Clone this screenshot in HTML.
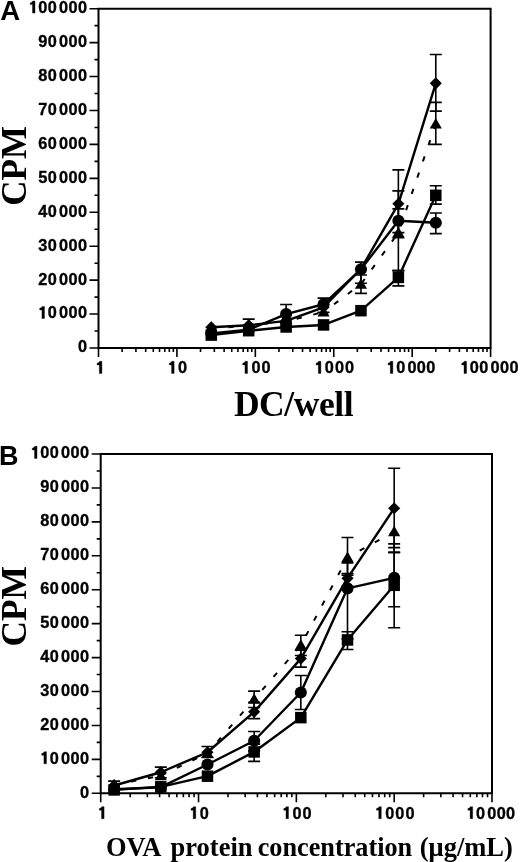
<!DOCTYPE html>
<html><head><meta charset="utf-8"><style>
html,body{margin:0;padding:0;background:#fff;width:520px;height:862px;overflow:hidden}
svg{display:block;filter:grayscale(1)}
.tl{font-family:"Liberation Sans",sans-serif;font-weight:bold;font-size:17.0px;fill:#000;stroke:#000;stroke-width:0.35px}
.one{stroke:#000;stroke-width:0.35px;vector-effect:non-scaling-stroke}
.ttl{font-family:"Liberation Serif",serif;font-weight:bold;fill:#000}
.pl{font-family:"Liberation Sans",sans-serif;font-weight:bold;fill:#000}
</style></head><body>
<svg width="520" height="862" viewBox="0 0 520 862">
<text x="0.3" y="20.4" class="pl" font-size="27.5">A</text>
<text x="-1" y="464.6" class="pl" font-size="27">B</text>
<text transform="translate(26 205.7) rotate(-90)" class="ttl" font-size="35">CPM</text>
<text transform="translate(26.3 646.6) rotate(-90)" class="ttl" font-size="35.4">CPM</text>
<text x="293.5" y="416" class="ttl" font-size="35.5" letter-spacing="-0.45" text-anchor="middle">DC/well</text>
<g class="ttl" font-size="26.5"><text x="106" y="855.5">OVA</text><text x="170.6" y="855.5">protein</text><text x="257.7" y="855.5" textLength="154.5" lengthAdjust="spacingAndGlyphs">concentration</text><text x="419.8" y="855.5">(μg/mL)</text></g>
<path d="M98.5 348.0H490.6V8.7H98.5Z" fill="none" stroke="#000" stroke-width="2.0" stroke-linejoin="miter"/>
<path d="M89.5 348.00H98.5M94.5 331.04H98.5M89.5 314.07H98.5M94.5 297.11H98.5M89.5 280.14H98.5M94.5 263.18H98.5M89.5 246.21H98.5M94.5 229.25H98.5M89.5 212.28H98.5M94.5 195.31H98.5M89.5 178.35H98.5M94.5 161.38H98.5M89.5 144.42H98.5M94.5 127.45H98.5M89.5 110.49H98.5M94.5 93.52H98.5M89.5 76.56H98.5M94.5 59.59H98.5M89.5 42.63H98.5M94.5 25.67H98.5M89.5 8.70H98.5" stroke="#000" stroke-width="1.6"/>
<path d="M98.50 348.0V357.0M122.11 348.0V352.0M135.92 348.0V352.0M145.71 348.0V352.0M153.31 348.0V352.0M159.52 348.0V352.0M164.77 348.0V352.0M169.32 348.0V352.0M173.33 348.0V352.0M176.92 348.0V357.0M200.53 348.0V352.0M214.34 348.0V352.0M224.13 348.0V352.0M231.73 348.0V352.0M237.94 348.0V352.0M243.19 348.0V352.0M247.74 348.0V352.0M251.75 348.0V352.0M255.34 348.0V357.0M278.95 348.0V352.0M292.76 348.0V352.0M302.55 348.0V352.0M310.15 348.0V352.0M316.36 348.0V352.0M321.61 348.0V352.0M326.16 348.0V352.0M330.17 348.0V352.0M333.76 348.0V357.0M357.37 348.0V352.0M371.18 348.0V352.0M380.97 348.0V352.0M388.57 348.0V352.0M394.78 348.0V352.0M400.03 348.0V352.0M404.58 348.0V352.0M408.59 348.0V352.0M412.18 348.0V357.0M435.79 348.0V352.0M449.60 348.0V352.0M459.39 348.0V352.0M466.99 348.0V352.0M473.20 348.0V352.0M478.45 348.0V352.0M483.00 348.0V352.0M487.01 348.0V352.0M490.60 348.0V357.0" stroke="#000" stroke-width="1.6"/>
<text transform="translate(77.90 352.40) scale(0.96 1)" class="tl">0</text>
<path transform="translate(38.30 318.47) scale(16.320 -17.0)" class="one" d="M0.378 0L0.222 0L0.222 0.500L0.085 0.500L0.085 0.600Q0.205 0.610 0.240 0.710L0.378 0.710Z"/><text transform="translate(47.75 318.47) scale(0.96 1)" class="tl">0</text><text transform="translate(59.00 318.47) scale(0.96 1)" class="tl">0</text><text transform="translate(68.45 318.47) scale(0.96 1)" class="tl">0</text><text transform="translate(77.90 318.47) scale(0.96 1)" class="tl">0</text>
<text transform="translate(38.30 284.54) scale(0.96 1)" class="tl">2</text><text transform="translate(47.75 284.54) scale(0.96 1)" class="tl">0</text><text transform="translate(59.00 284.54) scale(0.96 1)" class="tl">0</text><text transform="translate(68.45 284.54) scale(0.96 1)" class="tl">0</text><text transform="translate(77.90 284.54) scale(0.96 1)" class="tl">0</text>
<text transform="translate(38.30 250.61) scale(0.96 1)" class="tl">3</text><text transform="translate(47.75 250.61) scale(0.96 1)" class="tl">0</text><text transform="translate(59.00 250.61) scale(0.96 1)" class="tl">0</text><text transform="translate(68.45 250.61) scale(0.96 1)" class="tl">0</text><text transform="translate(77.90 250.61) scale(0.96 1)" class="tl">0</text>
<text transform="translate(38.30 216.68) scale(0.96 1)" class="tl">4</text><text transform="translate(47.75 216.68) scale(0.96 1)" class="tl">0</text><text transform="translate(59.00 216.68) scale(0.96 1)" class="tl">0</text><text transform="translate(68.45 216.68) scale(0.96 1)" class="tl">0</text><text transform="translate(77.90 216.68) scale(0.96 1)" class="tl">0</text>
<text transform="translate(38.30 182.75) scale(0.96 1)" class="tl">5</text><text transform="translate(47.75 182.75) scale(0.96 1)" class="tl">0</text><text transform="translate(59.00 182.75) scale(0.96 1)" class="tl">0</text><text transform="translate(68.45 182.75) scale(0.96 1)" class="tl">0</text><text transform="translate(77.90 182.75) scale(0.96 1)" class="tl">0</text>
<text transform="translate(38.30 148.82) scale(0.96 1)" class="tl">6</text><text transform="translate(47.75 148.82) scale(0.96 1)" class="tl">0</text><text transform="translate(59.00 148.82) scale(0.96 1)" class="tl">0</text><text transform="translate(68.45 148.82) scale(0.96 1)" class="tl">0</text><text transform="translate(77.90 148.82) scale(0.96 1)" class="tl">0</text>
<text transform="translate(38.30 114.89) scale(0.96 1)" class="tl">7</text><text transform="translate(47.75 114.89) scale(0.96 1)" class="tl">0</text><text transform="translate(59.00 114.89) scale(0.96 1)" class="tl">0</text><text transform="translate(68.45 114.89) scale(0.96 1)" class="tl">0</text><text transform="translate(77.90 114.89) scale(0.96 1)" class="tl">0</text>
<text transform="translate(38.30 80.96) scale(0.96 1)" class="tl">8</text><text transform="translate(47.75 80.96) scale(0.96 1)" class="tl">0</text><text transform="translate(59.00 80.96) scale(0.96 1)" class="tl">0</text><text transform="translate(68.45 80.96) scale(0.96 1)" class="tl">0</text><text transform="translate(77.90 80.96) scale(0.96 1)" class="tl">0</text>
<text transform="translate(38.30 47.03) scale(0.96 1)" class="tl">9</text><text transform="translate(47.75 47.03) scale(0.96 1)" class="tl">0</text><text transform="translate(59.00 47.03) scale(0.96 1)" class="tl">0</text><text transform="translate(68.45 47.03) scale(0.96 1)" class="tl">0</text><text transform="translate(77.90 47.03) scale(0.96 1)" class="tl">0</text>
<path transform="translate(28.85 13.10) scale(16.320 -17.0)" class="one" d="M0.378 0L0.222 0L0.222 0.500L0.085 0.500L0.085 0.600Q0.205 0.610 0.240 0.710L0.378 0.710Z"/><text transform="translate(38.30 13.10) scale(0.96 1)" class="tl">0</text><text transform="translate(47.75 13.10) scale(0.96 1)" class="tl">0</text><text transform="translate(59.00 13.10) scale(0.96 1)" class="tl">0</text><text transform="translate(68.45 13.10) scale(0.96 1)" class="tl">0</text><text transform="translate(77.90 13.10) scale(0.96 1)" class="tl">0</text>
<path transform="translate(95.72 373.40) scale(16.320 -17.0)" class="one" d="M0.378 0L0.222 0L0.222 0.500L0.085 0.500L0.085 0.600Q0.205 0.610 0.240 0.710L0.378 0.710Z"/>
<path transform="translate(167.97 373.40) scale(16.320 -17.0)" class="one" d="M0.378 0L0.222 0L0.222 0.500L0.085 0.500L0.085 0.600Q0.205 0.610 0.240 0.710L0.378 0.710Z"/><text transform="translate(178.07 373.40) scale(0.96 1)" class="tl">0</text>
<path transform="translate(241.34 373.40) scale(16.320 -17.0)" class="one" d="M0.378 0L0.222 0L0.222 0.500L0.085 0.500L0.085 0.600Q0.205 0.610 0.240 0.710L0.378 0.710Z"/><text transform="translate(251.44 373.40) scale(0.96 1)" class="tl">0</text><text transform="translate(261.54 373.40) scale(0.96 1)" class="tl">0</text>
<path transform="translate(314.71 373.40) scale(16.320 -17.0)" class="one" d="M0.378 0L0.222 0L0.222 0.500L0.085 0.500L0.085 0.600Q0.205 0.610 0.240 0.710L0.378 0.710Z"/><text transform="translate(324.81 373.40) scale(0.96 1)" class="tl">0</text><text transform="translate(334.91 373.40) scale(0.96 1)" class="tl">0</text><text transform="translate(345.01 373.40) scale(0.96 1)" class="tl">0</text>
<path transform="translate(386.68 373.40) scale(16.320 -17.0)" class="one" d="M0.378 0L0.222 0L0.222 0.500L0.085 0.500L0.085 0.600Q0.205 0.610 0.240 0.710L0.378 0.710Z"/><text transform="translate(396.13 373.40) scale(0.96 1)" class="tl">0</text><text transform="translate(407.38 373.40) scale(0.96 1)" class="tl">0</text><text transform="translate(416.83 373.40) scale(0.96 1)" class="tl">0</text><text transform="translate(426.28 373.40) scale(0.96 1)" class="tl">0</text>
<path transform="translate(460.38 373.40) scale(16.320 -17.0)" class="one" d="M0.378 0L0.222 0L0.222 0.500L0.085 0.500L0.085 0.600Q0.205 0.610 0.240 0.710L0.378 0.710Z"/><text transform="translate(469.83 373.40) scale(0.96 1)" class="tl">0</text><text transform="translate(479.28 373.40) scale(0.96 1)" class="tl">0</text><text transform="translate(490.53 373.40) scale(0.96 1)" class="tl">0</text><text transform="translate(499.98 373.40) scale(0.96 1)" class="tl">0</text><text transform="translate(509.43 373.40) scale(0.96 1)" class="tl">0</text>
<path d="M248.71 331.04V319.16M242.71 331.04H254.71M242.71 319.16H254.71" stroke="#000" stroke-width="1.6" fill="none"/>
<path d="M360.96 283.19V262.16M354.96 283.19H366.96M354.96 262.16H366.96" stroke="#000" stroke-width="1.6" fill="none"/>
<path d="M398.37 237.73V169.87M392.37 237.73H404.37M392.37 169.87H404.37" stroke="#000" stroke-width="1.6" fill="none"/>
<path d="M435.79 111.17V54.51M429.79 111.17H441.79M429.79 54.51H441.79" stroke="#000" stroke-width="1.6" fill="none"/>
<path d="M211.29 327.30L248.71 325.27L286.12 320.86L323.54 307.28L360.96 268.94L398.37 203.80L435.79 83.35" fill="none" stroke="#000" stroke-width="2.4" stroke-linejoin="round"/>
<g fill="#000"><path d="M211.29 321.25L217.34 327.30L211.29 333.35L205.24 327.30Z"/><path d="M248.71 319.22L254.76 325.27L248.71 331.32L242.66 325.27Z"/><path d="M286.12 314.81L292.17 320.86L286.12 326.91L280.07 320.86Z"/><path d="M323.54 301.23L329.59 307.28L323.54 313.33L317.49 307.28Z"/><path d="M360.96 262.89L367.01 268.94L360.96 274.99L354.91 268.94Z"/><path d="M398.37 197.75L404.42 203.80L398.37 209.85L392.32 203.80Z"/><path d="M435.79 77.30L441.84 83.35L435.79 89.40L429.74 83.35Z"/></g>
<path d="M360.96 293.37V275.05M354.96 293.37H366.96M354.96 275.05H366.96" stroke="#000" stroke-width="1.6" fill="none"/>
<path d="M398.37 270.64V190.90M392.37 270.64H404.37M392.37 190.90H404.37" stroke="#000" stroke-width="1.6" fill="none"/>
<path d="M435.79 144.42V102.35M429.79 144.42H441.79M429.79 102.35H441.79" stroke="#000" stroke-width="1.6" fill="none"/>
<path d="M211.29 328.66L248.71 325.61" fill="none" stroke="#000" stroke-width="2.0" stroke-dasharray="5.3 11.90" stroke-dashoffset="0.00"/>
<path d="M248.71 325.61L286.12 321.53" fill="none" stroke="#000" stroke-width="2.0" stroke-dasharray="5.3 11.90" stroke-dashoffset="3.14"/>
<path d="M286.12 321.53L323.54 312.03" fill="none" stroke="#000" stroke-width="2.0" stroke-dasharray="5.3 11.90" stroke-dashoffset="6.38"/>
<path d="M323.54 312.03L360.96 284.21" fill="none" stroke="#000" stroke-width="2.0" stroke-dasharray="5.3 11.90" stroke-dashoffset="4.14"/>
<path d="M360.96 284.21L398.37 232.64" fill="none" stroke="#000" stroke-width="2.0" stroke-dasharray="5.3 11.90" stroke-dashoffset="16.09"/>
<path d="M398.37 232.64L435.79 124.06" fill="none" stroke="#000" stroke-width="2.0" stroke-dasharray="5.3 11.90" stroke-dashoffset="10.66"/>
<g fill="#000"><path d="M211.29 322.66L217.34 333.16L205.24 333.16Z"/><path d="M248.71 319.61L254.76 330.11L242.66 330.11Z"/><path d="M286.12 315.53L292.17 326.03L280.07 326.03Z"/><path d="M323.54 306.03L329.59 316.53L317.49 316.53Z"/><path d="M360.96 278.21L367.01 288.71L354.91 288.71Z"/><path d="M398.37 226.64L404.42 237.14L392.32 237.14Z"/><path d="M435.79 118.06L441.84 128.56L429.74 128.56Z"/></g>
<path d="M286.12 323.23V304.57M280.12 323.23H292.12M280.12 304.57H292.12" stroke="#000" stroke-width="1.6" fill="none"/>
<path d="M323.54 312.37V298.12M317.54 312.37H329.54M317.54 298.12H329.54" stroke="#000" stroke-width="1.6" fill="none"/>
<path d="M398.37 232.64V208.89M392.37 232.64H404.37M392.37 208.89H404.37" stroke="#000" stroke-width="1.6" fill="none"/>
<path d="M435.79 233.66V212.96M429.79 233.66H441.79M429.79 212.96H441.79" stroke="#000" stroke-width="1.6" fill="none"/>
<path d="M211.29 333.41L248.71 329.68L286.12 314.07L323.54 304.23L360.96 269.28L398.37 220.76L435.79 222.80" fill="none" stroke="#000" stroke-width="2.4" stroke-linejoin="round"/>
<g fill="#000"><circle cx="211.29" cy="333.41" r="6.05"/><circle cx="248.71" cy="329.68" r="6.05"/><circle cx="286.12" cy="314.07" r="6.05"/><circle cx="323.54" cy="304.23" r="6.05"/><circle cx="360.96" cy="269.28" r="6.05"/><circle cx="398.37" cy="220.76" r="6.05"/><circle cx="435.79" cy="222.80" r="6.05"/></g>
<path d="M398.37 285.91V270.64M392.37 285.91H404.37M392.37 270.64H404.37" stroke="#000" stroke-width="1.6" fill="none"/>
<path d="M435.79 204.14V185.81M429.79 204.14H441.79M429.79 185.81H441.79" stroke="#000" stroke-width="1.6" fill="none"/>
<path d="M211.29 335.11L248.71 330.70L286.12 326.96L323.54 324.93L360.96 310.68L398.37 277.43L435.79 195.31" fill="none" stroke="#000" stroke-width="2.4" stroke-linejoin="round"/>
<g fill="#000"><rect x="205.54" y="329.36" width="11.5" height="11.5"/><rect x="242.96" y="324.95" width="11.5" height="11.5"/><rect x="280.37" y="321.21" width="11.5" height="11.5"/><rect x="317.79" y="319.18" width="11.5" height="11.5"/><rect x="355.21" y="304.93" width="11.5" height="11.5"/><rect x="392.62" y="271.68" width="11.5" height="11.5"/><rect x="430.04" y="189.56" width="11.5" height="11.5"/></g>
<path d="M100.7 793.3H492.0V454.0H100.7Z" fill="none" stroke="#000" stroke-width="2.0" stroke-linejoin="miter"/>
<path d="M91.7 793.30H100.7M96.7 776.33H100.7M91.7 759.37H100.7M96.7 742.40H100.7M91.7 725.44H100.7M96.7 708.47H100.7M91.7 691.51H100.7M96.7 674.54H100.7M91.7 657.58H100.7M96.7 640.62H100.7M91.7 623.65H100.7M96.7 606.68H100.7M91.7 589.72H100.7M96.7 572.75H100.7M91.7 555.79H100.7M96.7 538.83H100.7M91.7 521.86H100.7M96.7 504.89H100.7M91.7 487.93H100.7M96.7 470.97H100.7M91.7 454.00H100.7" stroke="#000" stroke-width="1.6"/>
<path d="M100.70 793.3V802.3M130.15 793.3V797.3M147.37 793.3V797.3M159.60 793.3V797.3M169.08 793.3V797.3M176.82 793.3V797.3M183.37 793.3V797.3M189.04 793.3V797.3M194.05 793.3V797.3M198.53 793.3V802.3M227.97 793.3V797.3M245.20 793.3V797.3M257.42 793.3V797.3M266.90 793.3V797.3M274.65 793.3V797.3M281.20 793.3V797.3M286.87 793.3V797.3M291.87 793.3V797.3M296.35 793.3V802.3M325.80 793.3V797.3M343.02 793.3V797.3M355.25 793.3V797.3M364.73 793.3V797.3M372.47 793.3V797.3M379.02 793.3V797.3M384.69 793.3V797.3M389.70 793.3V797.3M394.18 793.3V802.3M423.62 793.3V797.3M440.85 793.3V797.3M453.07 793.3V797.3M462.55 793.3V797.3M470.30 793.3V797.3M476.85 793.3V797.3M482.52 793.3V797.3M487.52 793.3V797.3M492.00 793.3V802.3" stroke="#000" stroke-width="1.6"/>
<text transform="translate(79.90 797.70) scale(0.96 1)" class="tl">0</text>
<path transform="translate(40.30 763.77) scale(16.320 -17.0)" class="one" d="M0.378 0L0.222 0L0.222 0.500L0.085 0.500L0.085 0.600Q0.205 0.610 0.240 0.710L0.378 0.710Z"/><text transform="translate(49.75 763.77) scale(0.96 1)" class="tl">0</text><text transform="translate(61.00 763.77) scale(0.96 1)" class="tl">0</text><text transform="translate(70.45 763.77) scale(0.96 1)" class="tl">0</text><text transform="translate(79.90 763.77) scale(0.96 1)" class="tl">0</text>
<text transform="translate(40.30 729.84) scale(0.96 1)" class="tl">2</text><text transform="translate(49.75 729.84) scale(0.96 1)" class="tl">0</text><text transform="translate(61.00 729.84) scale(0.96 1)" class="tl">0</text><text transform="translate(70.45 729.84) scale(0.96 1)" class="tl">0</text><text transform="translate(79.90 729.84) scale(0.96 1)" class="tl">0</text>
<text transform="translate(40.30 695.91) scale(0.96 1)" class="tl">3</text><text transform="translate(49.75 695.91) scale(0.96 1)" class="tl">0</text><text transform="translate(61.00 695.91) scale(0.96 1)" class="tl">0</text><text transform="translate(70.45 695.91) scale(0.96 1)" class="tl">0</text><text transform="translate(79.90 695.91) scale(0.96 1)" class="tl">0</text>
<text transform="translate(40.30 661.98) scale(0.96 1)" class="tl">4</text><text transform="translate(49.75 661.98) scale(0.96 1)" class="tl">0</text><text transform="translate(61.00 661.98) scale(0.96 1)" class="tl">0</text><text transform="translate(70.45 661.98) scale(0.96 1)" class="tl">0</text><text transform="translate(79.90 661.98) scale(0.96 1)" class="tl">0</text>
<text transform="translate(40.30 628.05) scale(0.96 1)" class="tl">5</text><text transform="translate(49.75 628.05) scale(0.96 1)" class="tl">0</text><text transform="translate(61.00 628.05) scale(0.96 1)" class="tl">0</text><text transform="translate(70.45 628.05) scale(0.96 1)" class="tl">0</text><text transform="translate(79.90 628.05) scale(0.96 1)" class="tl">0</text>
<text transform="translate(40.30 594.12) scale(0.96 1)" class="tl">6</text><text transform="translate(49.75 594.12) scale(0.96 1)" class="tl">0</text><text transform="translate(61.00 594.12) scale(0.96 1)" class="tl">0</text><text transform="translate(70.45 594.12) scale(0.96 1)" class="tl">0</text><text transform="translate(79.90 594.12) scale(0.96 1)" class="tl">0</text>
<text transform="translate(40.30 560.19) scale(0.96 1)" class="tl">7</text><text transform="translate(49.75 560.19) scale(0.96 1)" class="tl">0</text><text transform="translate(61.00 560.19) scale(0.96 1)" class="tl">0</text><text transform="translate(70.45 560.19) scale(0.96 1)" class="tl">0</text><text transform="translate(79.90 560.19) scale(0.96 1)" class="tl">0</text>
<text transform="translate(40.30 526.26) scale(0.96 1)" class="tl">8</text><text transform="translate(49.75 526.26) scale(0.96 1)" class="tl">0</text><text transform="translate(61.00 526.26) scale(0.96 1)" class="tl">0</text><text transform="translate(70.45 526.26) scale(0.96 1)" class="tl">0</text><text transform="translate(79.90 526.26) scale(0.96 1)" class="tl">0</text>
<text transform="translate(40.30 492.33) scale(0.96 1)" class="tl">9</text><text transform="translate(49.75 492.33) scale(0.96 1)" class="tl">0</text><text transform="translate(61.00 492.33) scale(0.96 1)" class="tl">0</text><text transform="translate(70.45 492.33) scale(0.96 1)" class="tl">0</text><text transform="translate(79.90 492.33) scale(0.96 1)" class="tl">0</text>
<path transform="translate(30.85 458.40) scale(16.320 -17.0)" class="one" d="M0.378 0L0.222 0L0.222 0.500L0.085 0.500L0.085 0.600Q0.205 0.610 0.240 0.710L0.378 0.710Z"/><text transform="translate(40.30 458.40) scale(0.96 1)" class="tl">0</text><text transform="translate(49.75 458.40) scale(0.96 1)" class="tl">0</text><text transform="translate(61.00 458.40) scale(0.96 1)" class="tl">0</text><text transform="translate(70.45 458.40) scale(0.96 1)" class="tl">0</text><text transform="translate(79.90 458.40) scale(0.96 1)" class="tl">0</text>
<path transform="translate(97.92 818.70) scale(16.320 -17.0)" class="one" d="M0.378 0L0.222 0L0.222 0.500L0.085 0.500L0.085 0.600Q0.205 0.610 0.240 0.710L0.378 0.710Z"/>
<path transform="translate(189.58 818.70) scale(16.320 -17.0)" class="one" d="M0.378 0L0.222 0L0.222 0.500L0.085 0.500L0.085 0.600Q0.205 0.610 0.240 0.710L0.378 0.710Z"/><text transform="translate(199.68 818.70) scale(0.96 1)" class="tl">0</text>
<path transform="translate(282.35 818.70) scale(16.320 -17.0)" class="one" d="M0.378 0L0.222 0L0.222 0.500L0.085 0.500L0.085 0.600Q0.205 0.610 0.240 0.710L0.378 0.710Z"/><text transform="translate(292.45 818.70) scale(0.96 1)" class="tl">0</text><text transform="translate(302.55 818.70) scale(0.96 1)" class="tl">0</text>
<path transform="translate(375.13 818.70) scale(16.320 -17.0)" class="one" d="M0.378 0L0.222 0L0.222 0.500L0.085 0.500L0.085 0.600Q0.205 0.610 0.240 0.710L0.378 0.710Z"/><text transform="translate(385.23 818.70) scale(0.96 1)" class="tl">0</text><text transform="translate(395.33 818.70) scale(0.96 1)" class="tl">0</text><text transform="translate(405.43 818.70) scale(0.96 1)" class="tl">0</text>
<path transform="translate(466.50 818.70) scale(16.320 -17.0)" class="one" d="M0.378 0L0.222 0L0.222 0.500L0.085 0.500L0.085 0.600Q0.205 0.610 0.240 0.710L0.378 0.710Z"/><text transform="translate(475.95 818.70) scale(0.96 1)" class="tl">0</text><text transform="translate(487.20 818.70) scale(0.96 1)" class="tl">0</text><text transform="translate(496.65 818.70) scale(0.96 1)" class="tl">0</text><text transform="translate(506.10 818.70) scale(0.96 1)" class="tl">0</text>
<path d="M114.13 789.91V781.09M108.13 789.91H120.13M108.13 781.09H120.13" stroke="#000" stroke-width="1.6" fill="none"/>
<path d="M160.80 777.69V767.17M154.80 777.69H166.80M154.80 767.17H166.80" stroke="#000" stroke-width="1.6" fill="none"/>
<path d="M207.48 757.33V746.48M201.48 757.33H213.48M201.48 746.48H213.48" stroke="#000" stroke-width="1.6" fill="none"/>
<path d="M254.15 718.65V702.37M248.15 718.65H260.15M248.15 702.37H260.15" stroke="#000" stroke-width="1.6" fill="none"/>
<path d="M300.83 667.08V650.12M294.83 667.08H306.83M294.83 650.12H306.83" stroke="#000" stroke-width="1.6" fill="none"/>
<path d="M347.50 586.33V573.43M341.50 586.33H353.50M341.50 573.43H353.50" stroke="#000" stroke-width="1.6" fill="none"/>
<path d="M394.18 552.40V468.25M388.18 552.40H400.18M388.18 468.25H400.18" stroke="#000" stroke-width="1.6" fill="none"/>
<path d="M114.13 785.50L160.80 772.26L207.48 752.24L254.15 711.87L300.83 658.60L347.50 578.18L394.18 508.29" fill="none" stroke="#000" stroke-width="2.4" stroke-linejoin="round"/>
<g fill="#000"><path d="M114.13 779.45L120.18 785.50L114.13 791.55L108.08 785.50Z"/><path d="M160.80 766.21L166.85 772.26L160.80 778.31L154.75 772.26Z"/><path d="M207.48 746.19L213.53 752.24L207.48 758.29L201.43 752.24Z"/><path d="M254.15 705.82L260.20 711.87L254.15 717.92L248.10 711.87Z"/><path d="M300.83 652.55L306.88 658.60L300.83 664.65L294.78 658.60Z"/><path d="M347.50 572.13L353.55 578.18L347.50 584.23L341.45 578.18Z"/><path d="M394.18 502.24L400.23 508.29L394.18 514.34L388.12 508.29Z"/></g>
<path d="M254.15 707.46V691.17M248.15 707.46H260.15M248.15 691.17H260.15" stroke="#000" stroke-width="1.6" fill="none"/>
<path d="M300.83 655.54V635.19M294.83 655.54H306.83M294.83 635.19H306.83" stroke="#000" stroke-width="1.6" fill="none"/>
<path d="M347.50 575.13V537.47M341.50 575.13H353.50M341.50 537.47H353.50" stroke="#000" stroke-width="1.6" fill="none"/>
<path d="M394.18 547.65V531.70M388.18 547.65H400.18" stroke="#000" stroke-width="1.6" fill="none"/>
<path d="M114.13 784.82L160.80 775.66" fill="none" stroke="#000" stroke-width="2.0" stroke-dasharray="5.3 11.90" stroke-dashoffset="0.00"/>
<path d="M160.80 775.66L207.48 753.26" fill="none" stroke="#000" stroke-width="2.0" stroke-dasharray="5.3 11.90" stroke-dashoffset="16.59"/>
<path d="M207.48 753.26L254.15 699.31" fill="none" stroke="#000" stroke-width="2.0" stroke-dasharray="5.3 11.90" stroke-dashoffset="1.92"/>
<path d="M254.15 699.31L300.83 645.37" fill="none" stroke="#000" stroke-width="2.0" stroke-dasharray="5.3 11.90" stroke-dashoffset="4.78"/>
<path d="M300.83 645.37L347.50 557.49" fill="none" stroke="#000" stroke-width="2.0" stroke-dasharray="5.3 11.90" stroke-dashoffset="6.37"/>
<path d="M347.50 557.49L394.18 531.70" fill="none" stroke="#000" stroke-width="2.0" stroke-dasharray="5.3 11.90" stroke-dashoffset="3.23"/>
<g fill="#000"><path d="M114.13 778.82L120.18 789.32L108.08 789.32Z"/><path d="M160.80 769.66L166.85 780.16L154.75 780.16Z"/><path d="M207.48 747.26L213.53 757.76L201.43 757.76Z"/><path d="M254.15 693.31L260.20 703.81L248.10 703.81Z"/><path d="M300.83 639.37L306.88 649.87L294.78 649.87Z"/><path d="M347.50 551.49L353.55 561.99L341.45 561.99Z"/><path d="M394.18 525.70L400.23 536.20L388.12 536.20Z"/></g>
<path d="M254.15 750.89V731.55M248.15 750.89H260.15M248.15 731.55H260.15" stroke="#000" stroke-width="1.6" fill="none"/>
<path d="M300.83 709.49V675.56M294.83 709.49H306.83M294.83 675.56H306.83" stroke="#000" stroke-width="1.6" fill="none"/>
<path d="M347.50 638.92V562.92M341.50 638.92H353.50M341.50 562.92H353.50" stroke="#000" stroke-width="1.6" fill="none"/>
<path d="M394.18 606.68V552.40M388.18 606.68H400.18M388.18 552.40H400.18" stroke="#000" stroke-width="1.6" fill="none"/>
<path d="M114.13 789.23L160.80 787.19L207.48 764.46L254.15 740.71L300.83 692.53L347.50 588.36L394.18 577.84" fill="none" stroke="#000" stroke-width="2.4" stroke-linejoin="round"/>
<g fill="#000"><circle cx="114.13" cy="789.23" r="6.05"/><circle cx="160.80" cy="787.19" r="6.05"/><circle cx="207.48" cy="764.46" r="6.05"/><circle cx="254.15" cy="740.71" r="6.05"/><circle cx="300.83" cy="692.53" r="6.05"/><circle cx="347.50" cy="588.36" r="6.05"/><circle cx="394.18" cy="577.84" r="6.05"/></g>
<path d="M254.15 761.41V744.10M248.15 761.41H260.15M248.15 744.10H260.15" stroke="#000" stroke-width="1.6" fill="none"/>
<path d="M347.50 649.44V631.79M341.50 649.44H353.50M341.50 631.79H353.50" stroke="#000" stroke-width="1.6" fill="none"/>
<path d="M394.18 627.72V543.91M388.18 627.72H400.18M388.18 543.91H400.18" stroke="#000" stroke-width="1.6" fill="none"/>
<path d="M114.13 789.91L160.80 786.85L207.48 776.17L254.15 751.91L300.83 717.64L347.50 639.94L394.18 585.31" fill="none" stroke="#000" stroke-width="2.4" stroke-linejoin="round"/>
<g fill="#000"><rect x="108.38" y="784.16" width="11.5" height="11.5"/><rect x="155.05" y="781.10" width="11.5" height="11.5"/><rect x="201.73" y="770.42" width="11.5" height="11.5"/><rect x="248.40" y="746.16" width="11.5" height="11.5"/><rect x="295.08" y="711.89" width="11.5" height="11.5"/><rect x="341.75" y="634.19" width="11.5" height="11.5"/><rect x="388.43" y="579.56" width="11.5" height="11.5"/></g>
</svg>
</body></html>
